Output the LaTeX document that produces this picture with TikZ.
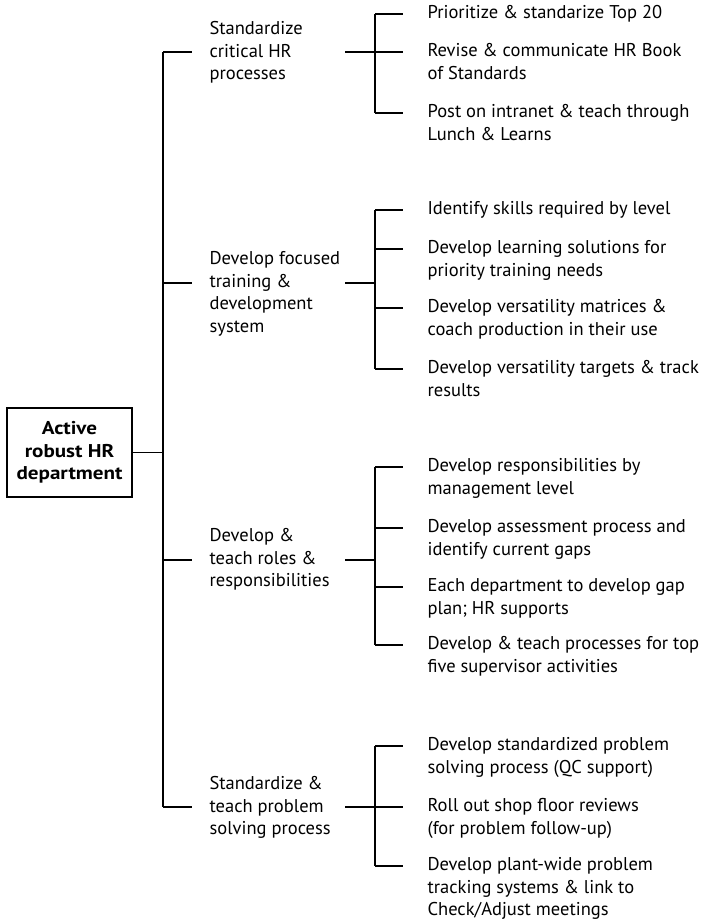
\documentclass[tikz,border=0pt]{standalone}
\usepackage{fontspec}
\setmainfont{PT Sans}
\newcommand{\textrows}[1]{\raisebox{-2pt}{\begin{tabular}[t]{@{}l@{}}#1\end{tabular}}}
\begin{document}
\begin{tikzpicture}[x=1pt, y=-1pt, line width=1.2pt,
    txt/.style={font=\fontsize{18.5}{22.7}\selectfont, anchor=mid west, inner sep=0pt},
    goal/.style={draw, font=\fontsize{18.5}{22.7}\selectfont\bfseries\addfontfeatures{FakeStretch=1.14},
      align=center, minimum width=125pt, minimum height=89pt, inner sep=0pt},
    stub/.style={shorten >=17pt},
    tick/.style={shorten >=24pt}]
  \useasboundingbox (0,0) rectangle (712,922);
  % goal and trunk
  \node[goal] (root) at (69.5,452.5) {Active\\robust HR\\department};
  \coordinate (j1) at (163,52);
  \coordinate (j2) at (163,283);
  \coordinate (j3) at (163,560);
  \coordinate (j4) at (163,807);
  \coordinate (b) at (375,0);
  \draw (j1) -- (j4);
  \draw (root.east) -- (root.east -| j1);

  % first level
  \node[txt] (std) at (209,30) {\textrows{Standardize\\critical HR\\processes}};
  \node[txt] (dev) at (209,260) {\textrows{Develop focused\\training \&\\development\\system}};
  \node[txt] (rol) at (209,537) {\textrows{Develop \&\\teach roles \&\\responsibilities}};
  \node[txt] (sol) at (209,785) {\textrows{Standardize \&\\teach problem\\solving process}};
  \draw[stub] (j1) -- (j1 -| std.west);
  \draw[stub] (j2) -- (j2 -| dev.west);
  \draw[stub] (j3) -- (j3 -| rol.west);
  \draw[stub] (j4) -- (j4 -| sol.west);

  % second level
  \node[txt] (std1) at (427,14) {\textrows{Prioritize \& standarize Top 20}};
  \node[txt] (std2) at (427,52) {\textrows{Revise \& communicate HR Book\\of Standards}};
  \node[txt] (std3) at (427,113) {\textrows{Post on intranet \& teach through\\Lunch \& Learns}};

  \node[txt] (dev1) at (427,210) {\textrows{Identify skills required by level}};
  \node[txt] (dev2) at (427,249) {\textrows{Develop learning solutions for\\priority training needs}};
  \node[txt] (dev3) at (427,308) {\textrows{Develop versatility matrices \&\\coach production in their use}};
  \node[txt] (dev4) at (427,369) {\textrows{Develop versatility targets \& track\\results}};

  \node[txt] (rol1) at (427,467) {\textrows{Develop responsibilities by\\management level}};
  \node[txt] (rol2) at (427,528) {\textrows{Develop assessment process and\\identify current gaps}};
  \node[txt] (rol3) at (427,587) {\textrows{Each department to develop gap\\plan; HR supports}};
  \node[txt] (rol4) at (427,645) {\textrows{Develop \& teach processes for top\\five supervisor activities}};

  \node[txt] (sol1) at (427,746) {\textrows{Develop standardized problem\\solving process (QC support)}};
  \node[txt] (sol2) at (427,807) {\textrows{Roll out shop floor reviews\\(for problem follow-up)}};
  \node[txt] (sol3) at (427,866) {\textrows{Develop plant-wide problem\\tracking systems \& link to\\Check/Adjust meetings}};

  % brackets
  \coordinate (o1) at (345,52);
  \coordinate (o2) at (345,283);
  \coordinate (o3) at (345,560);
  \coordinate (o4) at (345,807);
  \draw (o1) -- (o1 -| b);
  \draw (o2) -- (o2 -| b);
  \draw (o3) -- (o3 -| b);
  \draw (o4) -- (o4 -| b);
  \draw (b |- std1.mid west) -- (b |- std3.mid west);
  \draw (b |- dev1.mid west) -- (b |- dev4.mid west);
  \draw (b |- rol1.mid west) -- (b |- rol4.mid west);
  \draw (b |- sol1.mid west) -- (b |- sol3.mid west);
  \foreach \n in {std1,std2,std3,dev1,dev2,dev3,dev4,rol1,rol2,rol3,rol4,sol1,sol2,sol3}
    \draw[tick] (b |- \n.mid west) -- (\n.mid west);
\end{tikzpicture}
\end{document}
